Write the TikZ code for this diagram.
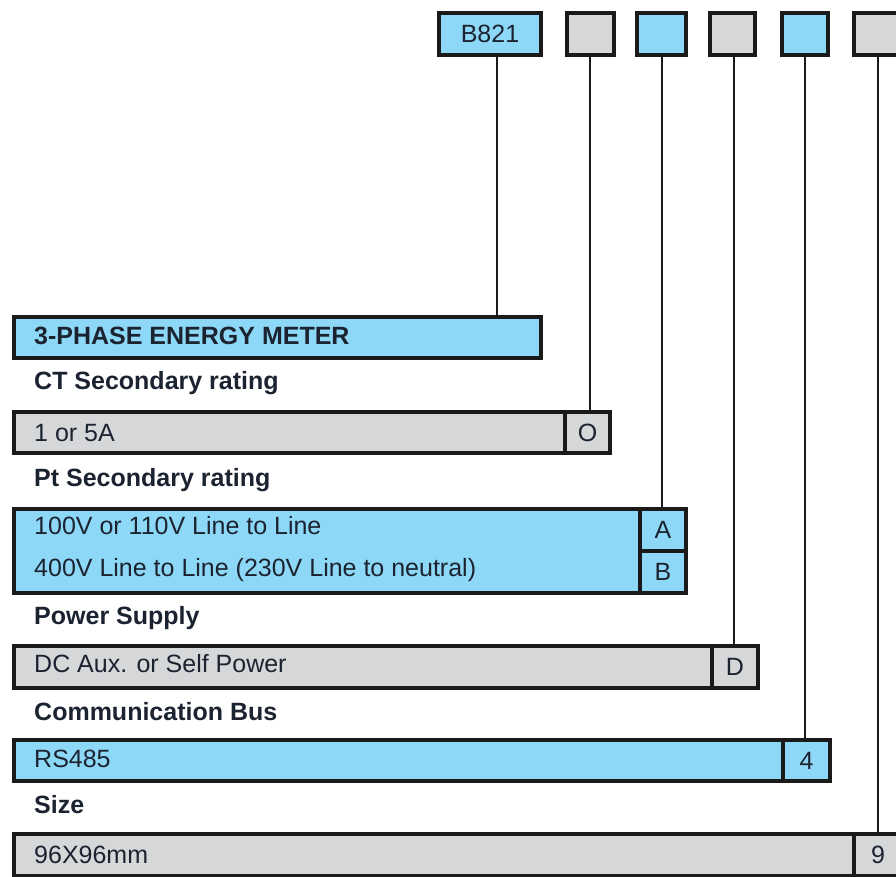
\documentclass[tikz,border=0pt]{standalone}
\usepackage{fontspec}
\setmainfont{Liberation Sans}
\definecolor{skyfill}{HTML}{8ED8F7}
\definecolor{greyfill}{HTML}{D6D7D9}
\definecolor{edge}{HTML}{1A1A1A}
\definecolor{ink}{HTML}{1C2330}
\begin{document}
\begin{tikzpicture}[x=1pt,y=-1pt,
  box/.style={draw=edge,line width=4pt,rectangle,inner sep=0pt,anchor=north west,
    font=\fontsize{25}{29}\selectfont,text=ink},
  sky/.style={box,fill=skyfill},
  grey/.style={box,fill=greyfill},
  lbl/.style={anchor=west,inner sep=0pt,font=\fontsize{25}{29}\selectfont,text=ink},
  head/.style={lbl,font=\fontsize{25}{29}\selectfont\bfseries},
  wire/.style={draw=edge,line width=2pt}]
\useasboundingbox (0,0) rectangle (896,876);
% top code boxes
\node[sky, minimum width=102pt, minimum height=42pt] (t1) at (437,11) {B821};
\node[grey, minimum width=47pt, minimum height=42pt] (t2) at (565,11) {};
\node[sky, minimum width=49pt, minimum height=42pt] (t3) at (635,11) {};
\node[grey, minimum width=45pt, minimum height=42pt] (t4) at (708,11) {};
\node[sky, minimum width=46pt, minimum height=42pt] (t5) at (780,11) {};
\node[grey, minimum width=50pt, minimum height=42pt] (t6) at (852,11) {};
% title
\node[sky, minimum width=527pt, minimum height=41pt] (title) at (12,315) {};
\node[head] (titletext) at (34,336) {3-PHASE ENERGY METER};
% row 1
\node[head] (h1) at (34,383) {CT Secondary rating};
\node[grey, minimum width=596pt, minimum height=41pt] (r1) at (12,410) {};
\node[grey, minimum width=45pt, minimum height=41pt] (c1) at (563,410) {O};
\node[lbl] (r1t) at (34,433) {1 or 5A};
% row 2
\node[head] (h2) at (34,480) {Pt Secondary rating};
\node[sky, minimum width=672pt, minimum height=84pt] (r2) at (12,507) {};
\node[sky, minimum width=46pt, minimum height=42pt] (c2a) at (638,507) {A};
\node[sky, minimum width=46pt, minimum height=42pt] (c2b) at (638,549) {B};
\node[lbl] (r2t1) at (34,526) {100V or 110V Line to Line};
\node[lbl] (r2t2) at (34,570) {400V Line to Line (230V Line to neutral)};
% row 3
\node[head] (h3) at (34,618) {Power Supply};
\node[grey, minimum width=744pt, minimum height=42pt] (r3) at (12,644) {};
\node[grey, minimum width=46pt, minimum height=42pt] (c3) at (710,644) {D};
\node[lbl] (r3t) at (34,664) {DC Aux. or Self Power};
% row 4
\node[head] (h4) at (34,712) {Communication Bus};
\node[sky, minimum width=816pt, minimum height=41pt] (r4) at (12,738) {};
\node[sky, minimum width=47pt, minimum height=41pt] (c4) at (781,738) {4};
\node[lbl] (r4t) at (34,759) {RS485};
% row 5
\node[head] (h5) at (34,805) {Size};
\node[grey, minimum width=890pt, minimum height=42pt] (r5) at (12,832) {};
\node[grey, minimum width=48pt, minimum height=42pt] (c5) at (852,832) {9};
\node[lbl] (r5t) at (34,855) {96X96mm};
% connectors
\draw[wire] ([xshift=7pt]t1.south) -- ([xshift=7pt]t1.south |- title.north);
\draw[wire] ([xshift=-1pt]t2.south) -- ([xshift=-1pt]t2.south |- c1.north);
\draw[wire] (t3.south) -- (t3.south |- c2a.north);
\draw[wire] ([xshift=1.5pt]t4.south) -- ([xshift=1.5pt]t4.south |- c3.north);
\draw[wire] (t5.south) -- (t5.south |- c4.north);
\draw[wire] (t6.south -| c5.north) -- (c5.north);
\end{tikzpicture}
\end{document}
